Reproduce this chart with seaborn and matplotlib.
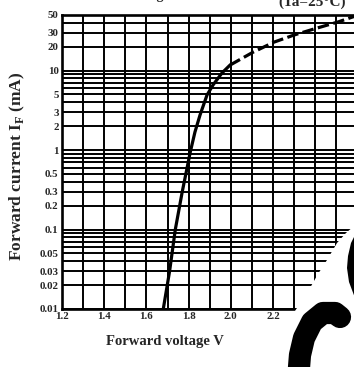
import matplotlib
matplotlib.use("Agg")
import matplotlib.pyplot as plt
import seaborn as sns
import numpy as np
import pandas as pd
from matplotlib.ticker import FixedLocator, NullFormatter
from matplotlib.patches import Polygon

# ---- data ----
v_solid = [1.680, 1.710, 1.737, 1.770, 1.793, 1.807, 1.830, 1.854, 1.887, 1.916, 1.958, 1.996]
i_solid = [0.01, 0.03, 0.10, 0.30, 0.60, 0.92, 1.68, 2.75, 4.90, 6.60, 9.30, 11.7]
v_dash = [1.996, 2.105, 2.205, 2.30, 2.405, 2.51, 2.585]
i_dash = [11.7, 17.0, 22.8, 28.0, 34.0, 41.0, 48.0]

x_ticks = [1.2, 1.4, 1.6, 1.8, 2.0, 2.2]
x_tick_labels = ["1.2", "1.4", "1.6", "1.8", "2.0", "2.2"]
x_grid = [1.3, 1.5, 1.7, 1.9, 2.1, 2.3, 2.4, 2.5]
y_ticks = [0.01, 0.02, 0.03, 0.05, 0.1, 0.2, 0.3, 0.5, 1, 2, 3, 5, 10, 20, 30, 50]
y_tick_labels = ["0.01", "0.02", "0.03", "0.05", "0.1", "0.2", "0.3", "0.5",
                 "1", "2", "3", "5", "10", "20", "30", "50"]
y_grid = [0.04, 0.06, 0.07, 0.08, 0.09, 0.4, 0.6, 0.7, 0.8, 0.9,
          4, 6, 7, 8, 9, 40]

sns.set_theme(style="white")
plt.rcParams['font.family'] = ['Liberation Serif', 'DejaVu Serif']
plt.rcParams['font.weight'] = 'bold'

W, H = 354, 367
fig = plt.figure(figsize=(W / 100, H / 100), dpi=100)
ax = fig.add_axes([62 / W, 1 - 309 / H, (W - 62) / W, (309 - 15) / H])

df_s = pd.DataFrame({"V": v_solid, "I": i_solid})
df_d = pd.DataFrame({"V": v_dash, "I": i_dash})
sns.lineplot(data=df_s, x="V", y="I", ax=ax, color="black", lw=2.3,
             sort=False, zorder=5)
sns.lineplot(data=df_d, x="V", y="I", ax=ax, color="black", lw=2.3,
             sort=False, zorder=5, linestyle=(0, (3.6, 1.4)))

ax.set_yscale("log")
ax.set_xlim(1.2, 1.2 + (W - 62) / 211)
ax.set_ylim(0.01, 50)
ax.xaxis.set_major_locator(FixedLocator(x_ticks))
ax.set_xticklabels(x_tick_labels)
ax.xaxis.set_minor_locator(FixedLocator(x_grid))
ax.yaxis.set_major_locator(FixedLocator(y_ticks))
ax.set_yticklabels(y_tick_labels)
ax.yaxis.set_minor_locator(FixedLocator(y_grid))
ax.yaxis.set_minor_formatter(NullFormatter())
ax.grid(True, which="both", color="black", lw=1.4)
ax.tick_params(which="both", length=0, labelsize=7.8, pad=2.5)
for lab in ax.get_xticklabels() + ax.get_yticklabels():
    lab.set_fontweight("bold")
for s in ["left", "bottom", "top"]:
    ax.spines[s].set_color("black")
    ax.spines[s].set_linewidth(1.9)
ax.spines["right"].set_visible(False)
ax.set_xlabel("")
ax.set_ylabel("")

fig.text(17 / W, 1 - 166 / H, "Forward current I$_\\mathregular{F}$ (mA)",
         rotation=90, ha="center", va="center", fontsize=12.5,
         fontweight="bold")
fig.text(165 / W, 1 - 342 / H, "Forward voltage V", ha="center",
         va="center", fontsize=10.5, fontweight="bold")
fig.text(278 / W, 1 - 6 / H, "(Ta=25°C)", ha="left", va="baseline",
         fontsize=11, fontweight="bold")
fig.text(180 / W, 1 + 1 / H, "Forward voltage vs. forward current",
         ha="center", va="baseline", fontsize=10, fontweight="bold")

# overlay in pixel coordinates for the scan artefacts (mask + logo fragment)
ov = fig.add_axes([0, 0, 1, 1], zorder=10)
ov.set_xlim(0, W)
ov.set_ylim(H, 0)
ov.axis("off")
ov.patch.set_alpha(0)
mask = Polygon([(295, 311), (310, 288), (318, 274), (327, 260), (337, 243),
                (346, 233), (354, 226), (356, 226), (356, 370), (295, 370)],
               closed=True, facecolor="white", edgecolor="none")
ov.add_patch(mask)
ov.plot([298, 300, 304, 312, 323, 335, 340], [380, 355, 338, 322, 313, 313, 317],
        color="black", lw=16, solid_capstyle="round", solid_joinstyle="round")
blob = Polygon([(355, 235), (351, 243), (348, 256), (347, 268), (349, 282),
                (355, 298)], closed=True, facecolor="black", edgecolor="none")
ov.add_patch(blob)

fig.savefig("out.png", dpi=100)
